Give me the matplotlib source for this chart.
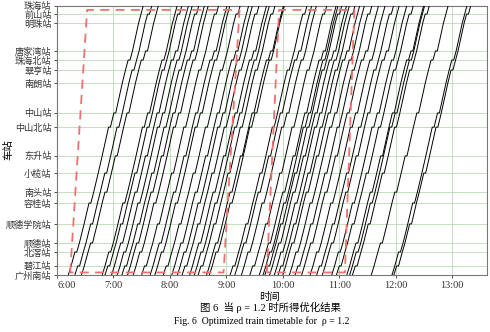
import matplotlib
matplotlib.use("Agg")
import matplotlib.pyplot as plt
from matplotlib.ticker import FixedLocator

plt.rcParams['font.family'] = ['Liberation Serif', 'Noto Sans CJK SC', 'DejaVu Sans']

# stations from 广州南站 (bottom) to 珠海站 (top)
stations = ["广州南站", "碧江站", "北滘站", "顺德站", "顺德学院站", "容桂站", "南头站",
            "小榄站", "东升站", "中山北站", "中山站", "南朗站", "翠亨站", "珠海北站",
            "唐家湾站", "明珠站", "前山站", "珠海站"]
station_km = [0, 3.9, 9.9, 13.8, 22.0, 31.0, 35.7, 43.9, 51.3, 63.7, 69.8,
              82.7, 88.3, 92.6, 96.5, 108.5, 112.4, 116.0]
# running time (min) of each section, bottom to top
section_run = [3.0, 4.0, 2.8, 5.0, 5.2, 3.0, 4.8, 4.2, 6.8, 3.6, 7.0, 3.4, 2.8, 2.6, 6.5, 2.6, 2.4]

# departures from 广州南站 (minutes after 6:00) and stop pattern of each train
train_dep = [12, 19, 26, 48, 51, 58, 64, 69, 75, 81, 90, 99, 104, 113, 122,
             128, 133, 141, 146, 150, 159, 162, 184, 189, 196, 205, 215, 219,
             221, 226, 231, 235, 240, 247, 253, 260, 269, 276, 282, 292, 297,
             308, 311, 314, 334, 356, 358]
train_pattern = ["A", "B", "C", "A", "B", "C", "A", "B", "C", "A", "B", "C", "A", "B", "C",
                 "A", "B", "C", "A", "B", "C", "A", "B", "C", "A", "B", "C", "A",
                 "B", "C", "A", "B", "C", "A", "B", "C", "A", "B", "C", "A", "B",
                 "C", "A", "B", "C", "A", "B"]
# dwell minutes at each station for each pattern
dwell_patterns = {
    "A": [0, 0, 2, 0, 0, 2, 0, 0, 0, 2, 2, 0, 0, 2, 0, 0, 0, 0],
    "B": [0, 2, 0, 0, 2, 0, 0, 2, 0, 2, 0, 0, 2, 0, 0, 0, 2, 0],
    "C": [0, 0, 0, 2, 0, 0, 2, 0, 2, 0, 2, 0, 0, 2, 2, 0, 0, 0],
}

# red dashed periods (time, km) corners
red1_t = [14, 32, 194, 177, 14]
red1_km = [1.1, 114.2, 114.2, 1.1, 1.1]
red2_t = [223, 236, 316, 306, 223]
red2_km = [1.1, 114.2, 114.2, 1.1, 1.1]

hours = ["6:00", "7:00", "8:00", "9:00", "10:00", "11:00", "12:00", "13:00"]

fig = plt.figure(figsize=(4.9, 3.32), dpi=100)
ax = fig.add_axes([57/490, 1-275/332, 430/490, (275-5.7)/332])

for dep, pat in zip(train_dep, train_pattern):
    dw = dwell_patterns[pat]
    t = dep
    ts, ks = [t], [station_km[0]]
    for i in range(1, len(stations)):
        t += section_run[i-1]
        ts.append(t); ks.append(station_km[i])
        if dw[i] and i < len(stations) - 1:
            t += dw[i]
            ts.append(t); ks.append(station_km[i])
    ax.plot(ts, ks, color='black', lw=0.7, zorder=3)

ax.plot(red1_t, red1_km, color='#f07070', lw=1.3, ls=(0, (5, 3.5)), zorder=4)
ax.plot(red2_t, red2_km, color='#f07070', lw=1.3, ls=(0, (5, 3.5)), zorder=4)

ax.set_xlim(0, 457)
ax.set_ylim(0, 116.0)
ax.xaxis.set_major_locator(FixedLocator([60*i for i in range(len(hours))]))
ax.set_xticklabels(hours, fontsize=7.5)
ax.set_yticks(station_km)
ax.set_yticklabels(stations, fontsize=6.6, family=['Noto Sans CJK SC'])
ax.tick_params(axis='both', length=2.5, width=0.6, pad=1.5, colors='#333333')
ax.grid(True, color='#b9dcb3', lw=0.6, zorder=0)
for s in ax.spines.values():
    s.set_color('#777777'); s.set_linewidth(0.8)
labs = ax.get_xticklabels()
labs[0].set_horizontalalignment('left')

fig.text(270/490, 1-297/332, "时间", ha='center', va='center', fontsize=7.5,
         family=['Noto Sans CJK SC'])
fig.text(8/490, 1-150/332, "车站", ha='center', va='center', rotation=90, fontsize=7.5,
         family=['Noto Sans CJK SC'])

fig.text(270/490, 1-307/332, "图 6  当 ρ = 1.2 时所得优化结果", ha='center', va='center',
         fontsize=7.5, family=['Liberation Serif', 'Noto Sans CJK SC'])
fig.text(262/490, 1-321/332, "Fig. 6  Optimized train timetable for  ρ = 1.2", ha='center',
         va='center', fontsize=7, family=['Liberation Serif'])

fig.savefig("out.png", dpi=100)
